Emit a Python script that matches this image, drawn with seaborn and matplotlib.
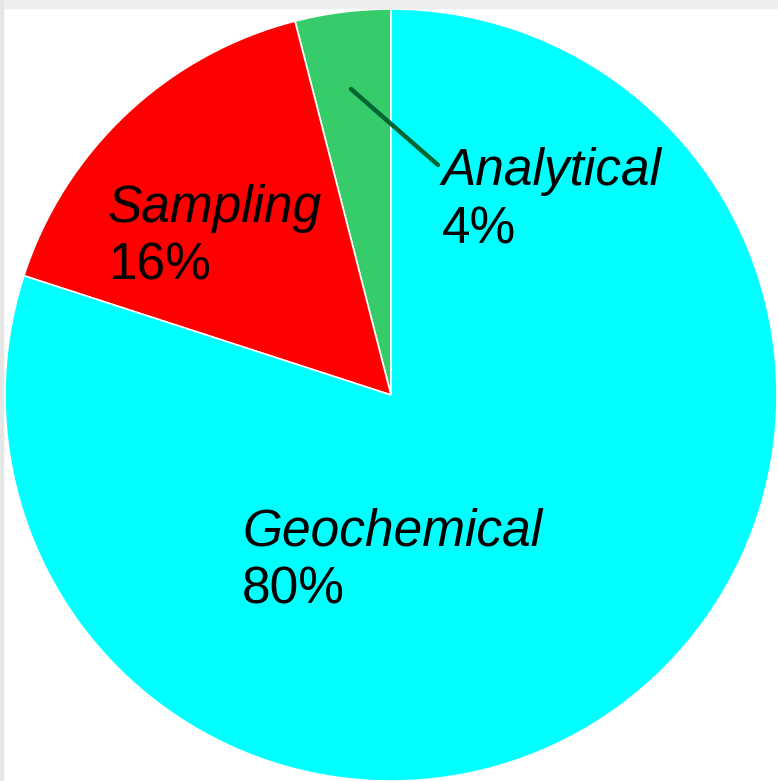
import matplotlib
matplotlib.use("Agg")
import matplotlib.pyplot as plt
import seaborn as sns

# Error contribution by source
sources = ["Analytical", "Sampling", "Geochemical"]
shares = [4, 16, 80]
colors = ["#36CC6A", "#FF0000", "#00FFFF"]

sns.set_theme(style="white")
plt.rcParams["font.family"] = ["Liberation Sans", "DejaVu Sans"]

W, H = 778, 781
cx, cy, r = 391, 395, 386

fig = plt.figure(figsize=(W / 100, H / 100), dpi=100)
ax = fig.add_axes([0, 0, 1, 1])
ax.set_xlim(-cx, W - cx)
ax.set_ylim(-(H - cy), cy)
ax.set_aspect("equal")
ax.axis("off")

ax.pie(shares, colors=colors, startangle=90, counterclock=True, radius=r,
       wedgeprops=dict(edgecolor="white", linewidth=1.2))
ax.set_xlim(-cx, W - cx)
ax.set_ylim(-(H - cy), cy)


def px(x, y):
    return x - cx, cy - y


# label anchors (pixel positions of the name's baseline start)
anchors = {"Analytical": (442, 185), "Sampling": (108, 222), "Geochemical": (242, 545)}
line_gap = 58
fs = 37
for name, val in zip(sources, shares):
    x0, y0 = anchors[name]
    ax.text(*px(x0, y0), name, fontsize=fs, style="italic", ha="left", va="baseline", color="black")
    ax.text(*px(x0, y0 + line_gap), f"{val}%", fontsize=fs, ha="left", va="baseline", color="black")

# leader line for the small slice
ax.plot(*zip(px(351, 89), px(438, 165)), color="#006633", lw=3.2, solid_capstyle="round")

# thin grey border strips along the top and left edges
fig.patches.append(plt.Rectangle((0, 1 - 8 / H), 1, 8 / H, transform=fig.transFigure,
                                 color="#eeeeee", zorder=0))
fig.patches.append(plt.Rectangle((0, 0), 3 / W, 1, transform=fig.transFigure,
                                 color="#e6e6e6", zorder=0))

fig.savefig("out.png", dpi=100)
